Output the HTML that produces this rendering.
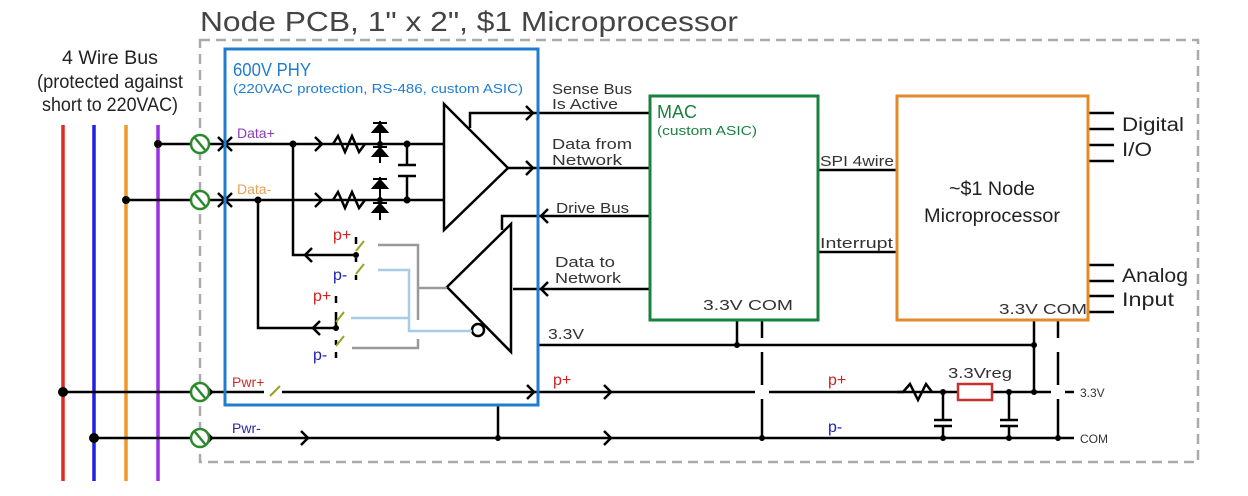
<!DOCTYPE html>
<html><head><meta charset="utf-8"><style>
html,body{margin:0;padding:0;background:#fff}
svg{display:block}
text{font-family:"Liberation Sans",sans-serif}
</style></head><body>
<svg width="1248" height="496" viewBox="0 0 1248 496" xmlns="http://www.w3.org/2000/svg">
<defs>
<g id="term"><circle r="9" fill="#fff" stroke="#2a8a2a" stroke-width="2.5"/><line x1="-5" y1="-6" x2="5" y2="6" stroke="#2a8a2a" stroke-width="2.5"/></g>
</defs>
<!-- title -->
<text x="200" y="31" font-size="28" fill="#444" textLength="538" lengthAdjust="spacingAndGlyphs">Node PCB, 1" x 2", $1 Microprocessor</text>
<!-- dashed box -->
<rect x="200" y="40" width="998" height="422" fill="none" stroke="#aaa" stroke-width="2.5" stroke-dasharray="10,6"/>
<!-- 4 wire bus label -->
<g font-size="19" fill="#222" text-anchor="middle">
<text x="110" y="64" textLength="96" lengthAdjust="spacingAndGlyphs">4 Wire Bus</text>
<text x="110" y="88" textLength="146" lengthAdjust="spacingAndGlyphs">(protected against</text>
<text x="110" y="111" textLength="136" lengthAdjust="spacingAndGlyphs">short to 220VAC)</text>
</g>
<!-- bus wires -->
<g stroke-width="3.5">
<line x1="63" y1="125" x2="63" y2="481" stroke="#e02828"/>
<line x1="94" y1="125" x2="94" y2="481" stroke="#2020e0"/>
<line x1="126" y1="125" x2="126" y2="481" stroke="#f0982a"/>
<line x1="158" y1="125" x2="158" y2="481" stroke="#9a30e0"/>
</g>
<g stroke="#000" stroke-width="2.5" fill="none">
<!-- data lines -->
<line x1="158" y1="144" x2="444" y2="144"/>
<line x1="126" y1="200" x2="444" y2="200"/>
<line x1="63" y1="392" x2="264" y2="392"/>
<line x1="282" y1="392" x2="755" y2="392"/>
<line x1="769" y1="392" x2="1051" y2="392"/>
<line x1="1065" y1="392" x2="1074" y2="392"/>
<line x1="94" y1="438" x2="1074" y2="438"/>
<!-- X marks -->
<path d="M218,137 L232,151 M218,151 L232,137 M218,193 L232,207 M218,207 L232,193"/>
<!-- arrows on data lines -->
<path d="M315,137 L322,144 L315,151 M315,193 L322,200 L315,207"/>
<!-- resistors -->
<path d="M333,144 L338,136 L345,152 L352,136 L359,152 L365,144"/>
<path d="M333,200 L338,192 L345,208 L352,192 L359,208 L365,200"/>
<!-- caps junction -->
<line x1="407" y1="144" x2="407" y2="165"/><line x1="407" y1="176" x2="407" y2="200"/>
<line x1="398" y1="165" x2="416" y2="165"/><line x1="398" y1="176" x2="416" y2="176"/>
<!-- receiver -->
<path d="M444,104 L444,230 L508,168 Z"/>
<path d="M470,128 L470,113 L650,113"/>
<line x1="508" y1="168" x2="650" y2="168"/>
<path d="M526,106 L533,113 L526,120 M526,161 L533,168 L526,175"/>
<!-- driver -->
<path d="M511,224 L511,352 L447,287 Z"/>
<path d="M502,230 L502,216 L650,216"/>
<line x1="513" y1="289" x2="650" y2="289"/>
<path d="M548,209 L541,216 L548,223 M548,282 L541,289 L548,296"/>
<circle cx="478" cy="330" r="6"/>
<!-- branches -->
<path d="M293,144 L293,255 L356,255"/>
<path d="M258,200 L258,328 L336,328"/>
<path d="M312,248 L305,255 L312,262 M320,321 L313,328 L320,335"/>
<!-- switch stubs -->
<path d="M356,237 L356,244 M356,258 L356,262 M356,275 L356,280 M336,296 L336,303 M336,328 L336,312 M336,340 L336,345 M336,352 L336,358"/>
<!-- 3.3V line -->
<line x1="538" y1="345" x2="1034" y2="345"/>
<line x1="737" y1="320" x2="737" y2="345"/>
<line x1="762" y1="320" x2="762" y2="338"/><line x1="762" y1="352" x2="762" y2="385"/><line x1="762" y1="399" x2="762" y2="438"/>
<line x1="1034" y1="320" x2="1034" y2="392"/>
<line x1="1058" y1="320" x2="1058" y2="338"/><line x1="1058" y1="352" x2="1058" y2="385"/><line x1="1058" y1="399" x2="1058" y2="438"/>
<line x1="498" y1="405" x2="498" y2="438"/>
<!-- p+ arrows -->
<path d="M205,385 L212,392 L205,399 M527,385 L534,392 L527,399 M604,385 L611,392 L604,399"/>
<path d="M205,431 L212,438 L205,445 M301,431 L308,438 L301,445 M604,431 L611,438 L604,445"/>
<!-- p+ resistor -->
<path d="M897,392 L903,392 L910,384 L918,400 L926,384 L932,392"/>
<!-- caps -->
<line x1="943" y1="392" x2="943" y2="420"/><line x1="943" y1="426" x2="943" y2="438"/>
<line x1="934" y1="420" x2="952" y2="420"/><line x1="934" y1="426" x2="952" y2="426"/>
<line x1="1009" y1="392" x2="1009" y2="420"/><line x1="1009" y1="426" x2="1009" y2="438"/>
<line x1="1000" y1="420" x2="1018" y2="420"/><line x1="1000" y1="426" x2="1018" y2="426"/>
<!-- MCU link lines -->
<line x1="818" y1="170" x2="897" y2="170"/>
<line x1="818" y1="252" x2="897" y2="252"/>
<!-- pins -->
<path d="M1088,113 H1114 M1088,129 H1114 M1088,145 H1114 M1088,161 H1114 M1088,265 H1114 M1088,281 H1114 M1088,296 H1114 M1088,312 H1114"/>
</g>
<!-- diodes -->
<g fill="#000" stroke="#000" stroke-width="2">
<path d="M373,132 L387,132 L380,124 Z M373,123 H387" fill="none"/>
<path d="M373,132 L387,132 L380,124 Z"/>
<path d="M373,156 L387,156 L380,148 Z"/><line x1="373" y1="147" x2="387" y2="147"/>
<path d="M373,188 L387,188 L380,180 Z"/><line x1="373" y1="179" x2="387" y2="179"/>
<path d="M373,212 L387,212 L380,204 Z"/><line x1="373" y1="203" x2="387" y2="203"/>
<line x1="380" y1="121" x2="380" y2="163"/><line x1="380" y1="177" x2="380" y2="220"/>
</g>
<!-- dots -->
<g fill="#000">
<circle cx="158" cy="144" r="4"/><circle cx="126" cy="200" r="4"/>
<circle cx="63" cy="392" r="5"/><circle cx="94" cy="438" r="5"/>
<circle cx="293" cy="144" r="3.5"/><circle cx="258" cy="200" r="3.5"/>
<circle cx="407" cy="144" r="3.5"/><circle cx="407" cy="200" r="3.5"/>
<circle cx="380" cy="144" r="3"/><circle cx="380" cy="200" r="3"/>
<circle cx="356" cy="255" r="3"/><circle cx="336" cy="328" r="3"/>
<circle cx="737" cy="345" r="3"/><circle cx="1034" cy="345" r="3"/><circle cx="1034" cy="392" r="3"/>
<circle cx="943" cy="392" r="3"/><circle cx="1009" cy="392" r="3"/>
<circle cx="498" cy="438" r="3"/><circle cx="762" cy="438" r="3"/>
<circle cx="943" cy="438" r="3"/><circle cx="1009" cy="438" r="3"/><circle cx="1058" cy="438" r="3"/>
</g>
<!-- switch diagonals -->
<g stroke="#9aa020" stroke-width="2">
<line x1="356" y1="251" x2="364" y2="241"/><line x1="356" y1="274" x2="364" y2="264"/>
<line x1="336" y1="322" x2="344" y2="312"/><line x1="336" y1="346" x2="344" y2="336"/>
<line x1="270" y1="396" x2="280" y2="386"/>
</g>
<!-- gray / light blue control wires -->
<g fill="none" stroke-width="2.5">
<path d="M378,245 H418 V320 M352,348 H418 V339 M418,288 H447" stroke="#999"/>
<path d="M378,270 H409 V331 H472 M351,318 H409" stroke="#a8cce8"/>
</g>
<!-- terminals -->
<use href="#term" x="200" y="144"/><use href="#term" x="200" y="200"/>
<use href="#term" x="200" y="392"/><use href="#term" x="200" y="438"/>
<!-- boxes -->
<rect x="225" y="49" width="313" height="356" fill="none" stroke="#1f7ccf" stroke-width="3"/>
<rect x="650" y="96" width="168" height="224" fill="none" stroke="#1a8040" stroke-width="3"/>
<rect x="897" y="96" width="191" height="224" fill="none" stroke="#e08a2a" stroke-width="3"/>
<rect x="958" y="384" width="34" height="16" fill="#fff" stroke="#c83030" stroke-width="2.5"/>
<!-- labels -->
<text x="233" y="76" font-size="18" fill="#1f7ccf" textLength="78" lengthAdjust="spacingAndGlyphs">600V PHY</text>
<text x="233" y="93" font-size="13" fill="#1f7ccf" textLength="290" lengthAdjust="spacingAndGlyphs">(220VAC protection, RS-486, custom ASIC)</text>
<text x="237" y="138" font-size="14" fill="#8a3ab9">Data+</text>
<text x="237" y="194" font-size="14" fill="#e8a050">Data-</text>
<text x="232" y="387" font-size="14" fill="#c83030">Pwr+</text>
<text x="232" y="433" font-size="14" fill="#2828a0">Pwr-</text>
<g font-size="16">
<text x="333" y="240" fill="#d02020">p+</text><text x="333" y="280" fill="#2020b0">p-</text>
<text x="313" y="301" fill="#d02020">p+</text><text x="313" y="360" fill="#2020b0">p-</text>
<text x="553" y="385" fill="#d02020">p+</text><text x="828" y="385" fill="#d02020">p+</text>
<text x="828" y="432" fill="#2020b0">p-</text>
</g>
<g font-size="15" fill="#333">
<text x="552" y="94" textLength="80" lengthAdjust="spacingAndGlyphs">Sense Bus</text>
<text x="552" y="109" textLength="66" lengthAdjust="spacingAndGlyphs">Is Active</text>
<text x="552" y="149" textLength="80" lengthAdjust="spacingAndGlyphs">Data from</text>
<text x="552" y="165" textLength="70" lengthAdjust="spacingAndGlyphs">Network</text>
<text x="556" y="213" textLength="73" lengthAdjust="spacingAndGlyphs">Drive Bus</text>
<text x="555" y="267" textLength="60" lengthAdjust="spacingAndGlyphs">Data to</text>
<text x="555" y="283" textLength="66" lengthAdjust="spacingAndGlyphs">Network</text>
<text x="548" y="339" textLength="36" lengthAdjust="spacingAndGlyphs">3.3V</text>
<text x="820" y="166" textLength="74" lengthAdjust="spacingAndGlyphs">SPI 4wire</text>
<text x="820" y="248" textLength="73" lengthAdjust="spacingAndGlyphs">Interrupt</text>
<text x="703" y="310" textLength="90" lengthAdjust="spacingAndGlyphs">3.3V  COM</text>
<text x="999" y="314" textLength="88" lengthAdjust="spacingAndGlyphs">3.3V  COM</text>
<text x="948" y="378" textLength="64" lengthAdjust="spacingAndGlyphs">3.3Vreg</text>
</g>
<text x="1080" y="397" font-size="12" fill="#333">3.3V</text>
<text x="1080" y="443" font-size="12" fill="#333">COM</text>
<text x="657" y="118" font-size="18" fill="#1a8040" textLength="40" lengthAdjust="spacingAndGlyphs">MAC</text>
<text x="657" y="135" font-size="13" fill="#1a8040" textLength="100" lengthAdjust="spacingAndGlyphs">(custom ASIC)</text>
<g font-size="19" fill="#222" text-anchor="middle">
<text x="992" y="195" textLength="86" lengthAdjust="spacingAndGlyphs">~$1 Node</text>
<text x="992" y="222" textLength="136" lengthAdjust="spacingAndGlyphs">Microprocessor</text>
</g>
<g font-size="19" fill="#222">
<text x="1122" y="131" textLength="62" lengthAdjust="spacingAndGlyphs">Digital</text>
<text x="1122" y="156" textLength="30" lengthAdjust="spacingAndGlyphs">I/O</text>
<text x="1122" y="282" textLength="66" lengthAdjust="spacingAndGlyphs">Analog</text>
<text x="1122" y="306" textLength="52" lengthAdjust="spacingAndGlyphs">Input</text>
</g>
</svg>
</body></html>
